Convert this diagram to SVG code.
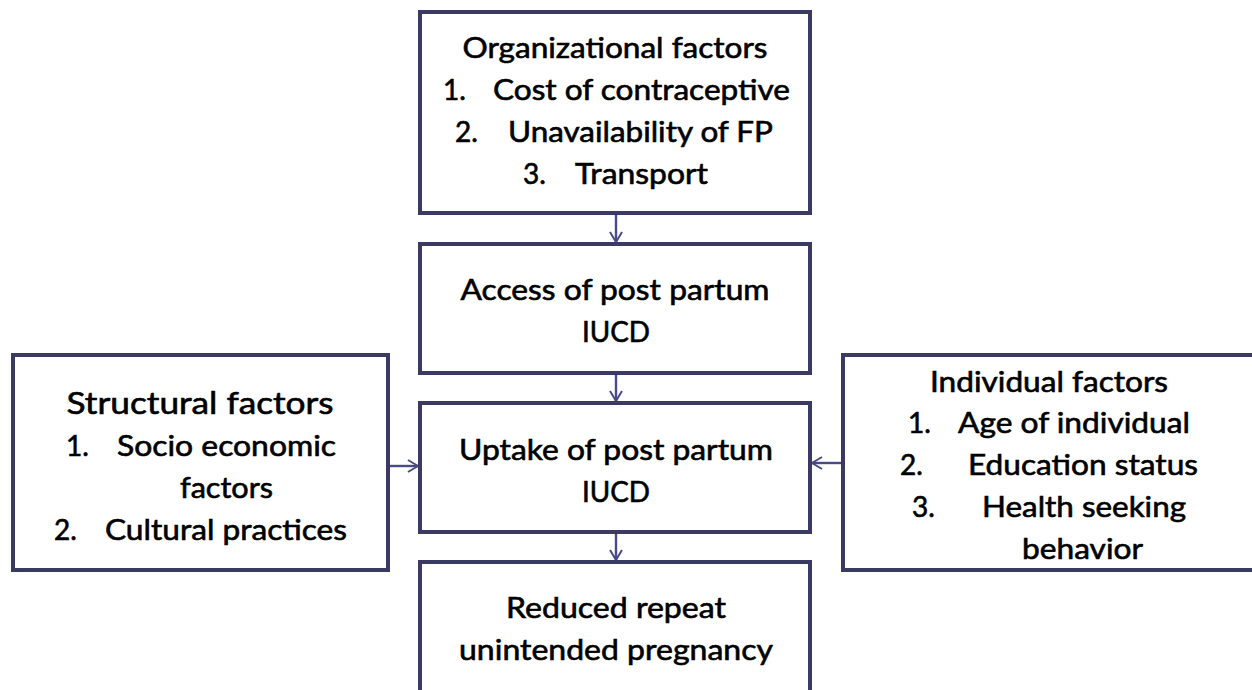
<svg xmlns="http://www.w3.org/2000/svg" width="1252" height="690" viewBox="0 0 1252 690">
<style>
.box{fill:#ffffff;stroke:#3b3a62;stroke-width:4}
.t{font-family:Lato,"Open Sans","Liberation Sans",sans-serif;font-size:28px;fill:#000000;stroke:#000000;stroke-width:0.6}
.c{text-anchor:middle}
.big{font-size:30px}
.con{stroke:#4a4a86;stroke-width:2.4;fill:none}
</style>
<defs>
<marker id="ah" viewBox="0 0 12 14" refX="11" refY="7" markerWidth="12" markerHeight="14" markerUnits="userSpaceOnUse" orient="auto">
<path d="M1,1 L11,7 L1,13" fill="none" stroke="#4a4a86" stroke-width="2"/>
</marker>
</defs>
<rect width="1252" height="690" fill="#ffffff"/>
<g id="connectors">
<line class="con" x1="616" y1="215" x2="616" y2="242" marker-end="url(#ah)"/>
<line class="con" x1="616" y1="375" x2="616" y2="401" marker-end="url(#ah)"/>
<line class="con" x1="616" y1="534" x2="616" y2="560" marker-end="url(#ah)"/>
<line class="con" x1="390" y1="466" x2="418" y2="466" marker-end="url(#ah)"/>
<line class="con" x1="841" y1="463" x2="812" y2="463" marker-end="url(#ah)"/>
</g>
<g id="organizational">
<rect class="box" x="420" y="12" width="390" height="201"/>
<text class="t c" x="615" y="58" textLength="305" lengthAdjust="spacingAndGlyphs">Organizational factors</text>
<text class="t" x="443" y="100">1.</text>
<text class="t" x="493" y="100" textLength="297" lengthAdjust="spacingAndGlyphs">Cost of contraceptive</text>
<text class="t" x="455" y="142">2.</text>
<text class="t" x="508" y="142" textLength="265" lengthAdjust="spacingAndGlyphs">Unavailability of FP</text>
<text class="t" x="523" y="184">3.</text>
<text class="t" x="575" y="184" textLength="133" lengthAdjust="spacingAndGlyphs">Transport</text>
</g>
<g id="access">
<rect class="box" x="420" y="244" width="390" height="129"/>
<text class="t c" x="615" y="300" textLength="309" lengthAdjust="spacingAndGlyphs">Access of post partum</text>
<text class="t c" x="616" y="342" textLength="68" lengthAdjust="spacingAndGlyphs">IUCD</text>
</g>
<g id="uptake">
<rect class="box" x="420" y="403" width="390" height="129"/>
<text class="t c" x="616" y="460" textLength="314" lengthAdjust="spacingAndGlyphs">Uptake of post partum</text>
<text class="t c" x="616" y="502" textLength="68" lengthAdjust="spacingAndGlyphs">IUCD</text>
</g>
<g id="reduced">
<rect class="box" x="420" y="562" width="390" height="140"/>
<text class="t c" x="616" y="618" textLength="220" lengthAdjust="spacingAndGlyphs">Reduced repeat</text>
<text class="t c" x="616" y="660" textLength="314" lengthAdjust="spacingAndGlyphs">unintended pregnancy</text>
</g>
<g id="structural">
<rect class="box" x="13" y="355" width="375" height="215"/>
<text class="t c big" x="200" y="414" textLength="267" lengthAdjust="spacingAndGlyphs">Structural factors</text>
<text class="t" x="66" y="456">1.</text>
<text class="t" x="117" y="456" textLength="219" lengthAdjust="spacingAndGlyphs">Socio economic</text>
<text class="t" x="180" y="498" textLength="93" lengthAdjust="spacingAndGlyphs">factors</text>
<text class="t" x="54" y="540">2.</text>
<text class="t" x="105" y="540" textLength="242" lengthAdjust="spacingAndGlyphs">Cultural practices</text>
</g>
<g id="individual">
<rect class="box" x="843" y="355" width="420" height="215"/>
<text class="t c" x="1049" y="392" textLength="238" lengthAdjust="spacingAndGlyphs">Individual factors</text>
<text class="t" x="908" y="433">1.</text>
<text class="t" x="958" y="433" textLength="232" lengthAdjust="spacingAndGlyphs">Age of individual</text>
<text class="t" x="900" y="475">2.</text>
<text class="t" x="968" y="475" textLength="230" lengthAdjust="spacingAndGlyphs">Education status</text>
<text class="t" x="912" y="517">3.</text>
<text class="t" x="982" y="517" textLength="204" lengthAdjust="spacingAndGlyphs">Health seeking</text>
<text class="t" x="1022" y="559" textLength="121" lengthAdjust="spacingAndGlyphs">behavior</text>
</g>
</svg>
